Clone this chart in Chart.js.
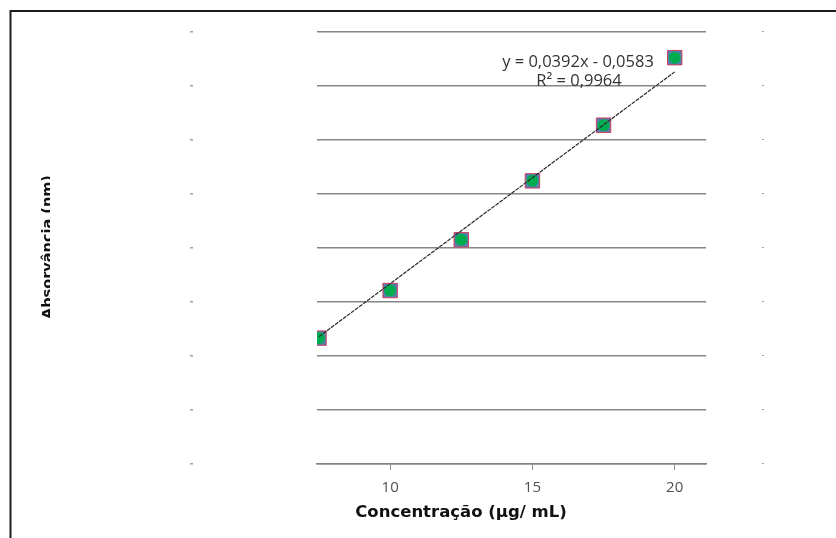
<!DOCTYPE html>
<html>
<head>
<meta charset="utf-8">
<script src="https://cdn.jsdelivr.net/npm/chart.js@4/dist/chart.umd.min.js"></script>
<style>
  html, body { margin: 0; padding: 0; background: #ffffff; }
  canvas { display: block; }
</style>
</head>
<body>
<canvas id="curve" width="836" height="538"></canvas>
<script>
// Calibration curve: absorbance vs. concentration
const concentrations = [7.5, 10, 12.5, 15, 17.5, 20];
const absorbances = [0.233, 0.321, 0.415, 0.524, 0.627, 0.752];
const xTickValues = [10, 15, 20];
const yGridValues = [0, 0.1, 0.2, 0.3, 0.4, 0.5, 0.6, 0.7, 0.8];
const trendSlope = 0.0392;
const trendIntercept = -0.0583;
const trendR2 = 0.9964;
const xTitle = 'Concentração (µg/ mL)';
const yTitle = 'Absorvância (nm)';

const fmt = (v, d) => v.toFixed(d).replace('.', ',');
const trendPoints = [concentrations[0], concentrations[concentrations.length - 1]]
  .map(x => ({ x, y: trendSlope * x + trendIntercept }));
const points = concentrations.map((x, i) => ({ x, y: absorbances[i] }));

const decor = {
  id: 'decor',
  beforeDraw(chart) {
    const ctx = chart.ctx;
    ctx.save();
    ctx.fillStyle = '#ffffff';
    ctx.fillRect(0, 0, chart.width, chart.height);
    ctx.restore();
  },
  afterDraw(chart) {
    const ctx = chart.ctx;
    const a = chart.chartArea;
    const ys = chart.scales.y;
    ctx.save();

    // outer frame (top and left edges)
    ctx.strokeStyle = '#1c1c1c';
    ctx.lineWidth = 2;
    ctx.beginPath();
    ctx.moveTo(10.5, chart.height);
    ctx.lineTo(10.5, 11);
    ctx.lineTo(chart.width, 11);
    ctx.stroke();

    // faint stub marks either side of the plot at each grid level
    ctx.fillStyle = '#a0a0a0';
    yGridValues.forEach(v => {
      const y = Math.round(ys.getPixelForValue(v));
      ctx.fillRect(a.left - 127, y - 1, 3, 1.5);
      ctx.fillRect(a.right + 56, y - 1, 2, 1);
    });

    // trendline equation and R²
    ctx.fillStyle = '#333333';
    ctx.font = '16.5px "Open Sans"';
    ctx.textAlign = 'center';
    ctx.textBaseline = 'middle';
    ctx.fillText('y = ' + fmt(trendSlope, 4) + 'x - ' + fmt(-trendIntercept, 4), 578, 62);
    ctx.fillText('R² = ' + fmt(trendR2, 4), 579, 81);

    // x axis title
    ctx.fillStyle = '#111111';
    ctx.font = 'bold 16.5px "DejaVu Sans"';
    ctx.fillText(xTitle, 461, 513);

    // y axis title, trimmed along its baseline by the frame edge
    ctx.beginPath();
    ctx.rect(0, 150, 50, 200);
    ctx.clip();
    ctx.translate(52, 247);
    ctx.rotate(-Math.PI / 2);
    ctx.textBaseline = 'alphabetic';
    ctx.font = 'bold 14.5px "DejaVu Sans"';
    ctx.fillText(yTitle, 0, 0);

    ctx.restore();
  }
};

new Chart(document.getElementById('curve'), {
  type: 'scatter',
  data: {
    datasets: [
      {
        type: 'line',
        data: trendPoints,
        borderColor: '#2a2a2a',
        borderWidth: 1.2,
        borderDash: [4, 1],
        pointRadius: 0,
        fill: false
      },
      {
        data: points,
        pointStyle: 'circle',
        pointRadius: 6,
        backgroundColor: '#00ac50',
        borderWidth: 0
      },
      {
        data: points,
        pointStyle: 'rect',
        pointRadius: 10.2,
        backgroundColor: '#557fb0',
        borderColor: '#d0405a',
        borderWidth: 1
      }
    ]
  },
  options: {
    responsive: false,
    animation: false,
    devicePixelRatio: 1,
    layout: { padding: { left: 317, right: 130, top: 11, bottom: 44 } },
    plugins: { legend: { display: false }, tooltip: { enabled: false } },
    scales: {
      x: {
        type: 'linear',
        min: 7.43,
        max: 21.1,
        afterBuildTicks: s => { s.ticks = xTickValues.map(v => ({ value: v })); },
        afterFit: s => { s.height = 30; },
        grid: { drawOnChartArea: false, drawTicks: true, tickLength: 6, color: '#8c8c8c' },
        border: { display: true, color: '#828282', width: 1.4 },
        ticks: { color: '#505050', font: { family: 'Open Sans', size: 15 }, padding: 9 }
      },
      y: {
        type: 'linear',
        min: 0,
        max: 0.838,
        afterBuildTicks: s => { s.ticks = yGridValues.map(v => ({ value: v })); },
        afterFit: s => { s.width = 0; },
        grid: { drawTicks: false, color: '#868686', lineWidth: 1.4 },
        border: { display: false },
        ticks: { display: false }
      }
    }
  },
  plugins: [decor]
});
</script>
</body>
</html>
